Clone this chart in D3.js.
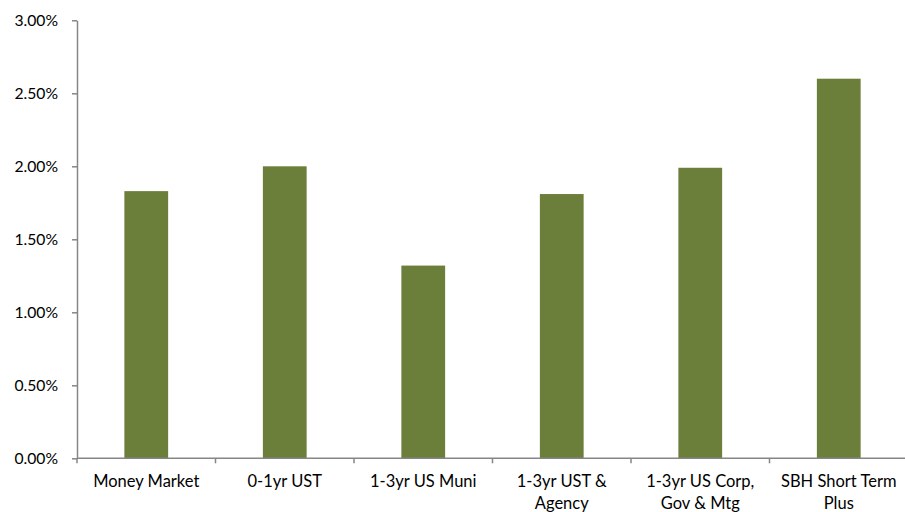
<!DOCTYPE html>
<html>
<head>
<meta charset="utf-8">
<script src="https://cdn.jsdelivr.net/npm/d3@7"></script>
<style>
  html, body { margin: 0; padding: 0; background: #fff; }
  svg { display: block; }
  text { font-family: Lato, "Open Sans", sans-serif; fill: #000; }
</style>
</head>
<body>
<svg id="chart" width="905" height="512"></svg>
<script>
// Yield by strategy (percent)
const categories = [
  "Money Market",
  "0-1yr UST",
  "1-3yr US Muni",
  "1-3yr UST & Agency",
  "1-3yr US Corp, Gov & Mtg",
  "SBH Short Term Plus"
];
const yieldValues = [1.83, 2.00, 1.32, 1.81, 1.99, 2.60];
const yTicks = [0, 0.5, 1.0, 1.5, 2.0, 2.5, 3.0];

const svg = d3.select("#chart");
const plot = { left: 77, right: 908, top: 20.3, bottom: 458.3 };

const x = d3.scaleBand().domain(categories).range([plot.left, plot.right]).padding(0);
const y = d3.scaleLinear().domain([0, 3]).range([plot.bottom, plot.top]);

const axisColor = "#868686";
const barColor = "#6b7f3a";
const barW = x.bandwidth() * 0.316;

// bars
svg.append("g").selectAll("rect")
  .data(categories.map((c, i) => ({ c, v: yieldValues[i] })))
  .join("rect")
  .attr("x", d => x(d.c) + (x.bandwidth() - barW) / 2)
  .attr("y", d => y(d.v))
  .attr("width", barW)
  .attr("height", d => y(0) - y(d.v))
  .attr("fill", barColor);

// y axis
const yAxis = svg.append("g")
  .attr("transform", `translate(${plot.left},0)`)
  .call(d3.axisLeft(y).tickValues(yTicks).tickFormat(d => d.toFixed(2) + "%").tickSize(5).tickSizeOuter(0).tickPadding(14));
yAxis.select(".domain").attr("stroke", axisColor).attr("stroke-width", 1.5);
yAxis.selectAll(".tick line").attr("stroke", axisColor).attr("stroke-width", 1.5);
yAxis.selectAll(".tick text").style("font-size", "15.7px").attr("fill", "#000");

// x axis: ticks sit on the category boundaries
const boundaries = categories.map(c => x(c)).concat([plot.right]);
svg.append("line")
  .attr("x1", plot.left).attr("x2", plot.right)
  .attr("y1", plot.bottom).attr("y2", plot.bottom)
  .attr("stroke", axisColor).attr("stroke-width", 1.5);
svg.append("g").selectAll("line")
  .data(boundaries)
  .join("line")
  .attr("x1", d => d).attr("x2", d => d)
  .attr("y1", plot.bottom).attr("y2", plot.bottom + 5)
  .attr("stroke", axisColor).attr("stroke-width", 1.5);

// category labels, wrapped to the band width
const labelG = svg.append("g");
categories.forEach(c => {
  const cx = x(c) + x.bandwidth() / 2;
  const t = labelG.append("text")
    .attr("x", cx)
    .attr("y", plot.bottom + 29)
    .attr("text-anchor", "middle")
    .style("font-size", "16.5px");
  const words = c.split(" ");
  let line = [];
  let tspan = t.append("tspan").attr("x", cx).attr("dy", 0);
  words.forEach(w => {
    line.push(w);
    tspan.text(line.join(" "));
    if (tspan.node().getComputedTextLength() > x.bandwidth() - 8 && line.length > 1) {
      line.pop();
      tspan.text(line.join(" "));
      line = [w];
      tspan = t.append("tspan").attr("x", cx).attr("dy", "1.3em").text(w);
    }
  });
});
</script>
</body>
</html>
